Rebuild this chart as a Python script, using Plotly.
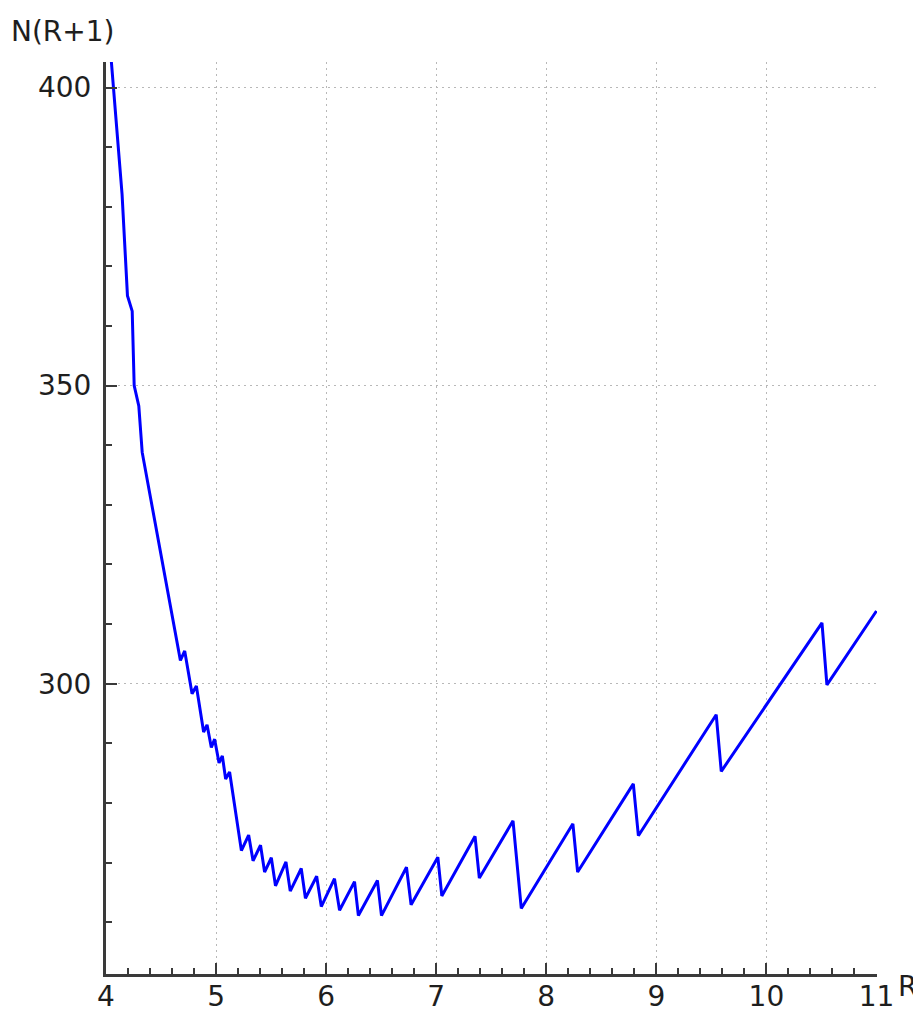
import plotly.graph_objects as go

# Data
R_vals = [4.00, 4.146, 4.195, 4.238, 4.256, 4.298, 4.329, 4.676, 4.715, 4.782,
          4.821, 4.887, 4.918, 4.957, 4.987, 5.027, 5.057, 5.087, 5.123, 5.230,
          5.296, 5.336, 5.404, 5.441, 5.502, 5.540, 5.635, 5.674, 5.774, 5.812,
          5.914, 5.956, 6.076, 6.122, 6.258, 6.293, 6.466, 6.503, 6.730, 6.772,
          7.015, 7.051, 7.353, 7.392, 7.698, 7.773, 8.242, 8.285, 8.791, 8.837,
          9.544, 9.590, 10.505, 10.550, 11.00]
N_vals = [415.5, 382.1, 365.1, 362.5, 350.0, 346.6, 338.8, 303.9, 305.5, 298.3,
          299.6, 291.9, 293.1, 289.3, 290.7, 286.7, 287.9, 284.0, 285.2, 272.0,
          274.6, 270.3, 272.9, 268.4, 270.8, 266.1, 270.1, 265.2, 269.0, 264.0,
          267.7, 262.6, 267.3, 262.0, 266.8, 261.1, 267.0, 261.1, 269.2, 262.9,
          270.9, 264.4, 274.4, 267.4, 277.0, 262.3, 276.5, 268.4, 283.2, 274.5,
          294.8, 285.3, 310.2, 299.8, 312.2]

x_ticks = [4, 5, 6, 7, 8, 9, 10, 11]
y_ticks = [300, 350, 400]
x_title = "R"
y_title = "N(R+1)"

FONT = "DejaVu Sans"
AXIS_COLOR = "#3a3a3a"
TEXT_COLOR = "#1e1e1e"
FS = 28

fig = go.Figure()
fig.add_trace(go.Scatter(x=R_vals, y=N_vals, mode="lines",
                         line=dict(color="#0000ff", width=3),
                         showlegend=False, hoverinfo="skip"))

common = dict(showline=True, linecolor=AXIS_COLOR, linewidth=3,
              ticks="inside", ticklen=11, tickwidth=2, tickcolor=AXIS_COLOR,
              showgrid=True, gridcolor="#b8b8b8", gridwidth=1.2,
              griddash="2px,4px",
              zeroline=False, automargin=False,
              tickfont=dict(family=FONT, size=FS, color=TEXT_COLOR))

fig.update_xaxes(range=[4, 11.005], tickmode="array", tickvals=x_ticks,
                 ticktext=[str(v) for v in x_ticks],
                 minor=dict(dtick=0.2, ticks="inside", ticklen=6, tickwidth=2,
                            tickcolor=AXIS_COLOR, showgrid=False),
                 ticklabelstandoff=-5, **common)
fig.update_yaxes(range=[251.3, 404.3], tickmode="array", tickvals=y_ticks,
                 ticktext=[str(v) for v in y_ticks],
                 minor=dict(dtick=10, ticks="inside", ticklen=6, tickwidth=2,
                            tickcolor=AXIS_COLOR, showgrid=False),
                 ticklabelstandoff=6, **common)

fig.add_annotation(text=y_title, xref="paper", yref="paper", x=0, y=1,
                   xshift=-97, yshift=12, xanchor="left", yanchor="bottom",
                   showarrow=False,
                   font=dict(family=FONT, size=FS, color=TEXT_COLOR))
fig.add_annotation(text=x_title, xref="paper", yref="paper", x=1, y=0,
                   xshift=19, yshift=-12, xanchor="left", yanchor="middle",
                   showarrow=False,
                   font=dict(family=FONT, size=FS, color=TEXT_COLOR))

# The page body has an 8px margin, so the figure is sized/placed to compensate
fig.update_layout(width=913, height=1006,
                  margin=dict(l=98, r=44, t=54, b=40),
                  plot_bgcolor="white", paper_bgcolor="white")

fig.write_html("out.html")
